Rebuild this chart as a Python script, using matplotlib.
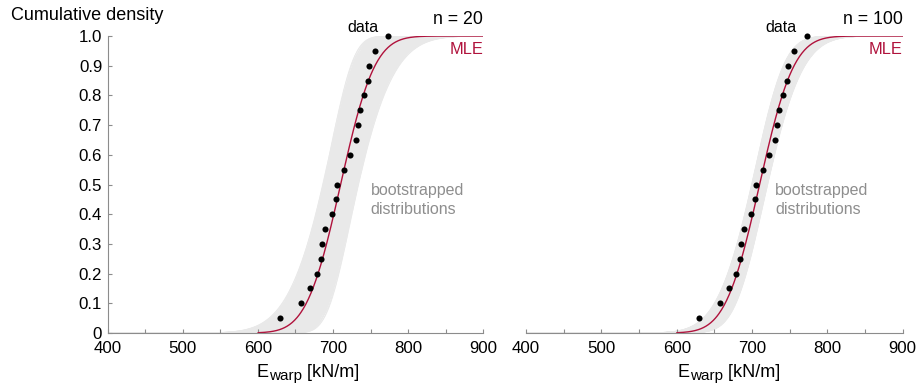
import math
import numpy as np
import matplotlib
matplotlib.use("Agg")
import matplotlib.pyplot as plt
from matplotlib.ticker import FixedLocator, MultipleLocator
from matplotlib.transforms import IdentityTransform

plt.rcParams["font.family"] = ["Liberation Sans", "DejaVu Sans"]

# Measured warp stiffness values (kN/m), sorted, with empirical CDF levels
e_warp = [630, 657, 669, 679, 684, 685, 689, 698, 703.5, 705.5,
          714, 722, 731, 733.5, 736, 741, 747, 748, 756, 773]
cdf_level = [0.05, 0.10, 0.15, 0.20, 0.25, 0.30, 0.35, 0.40, 0.45, 0.50,
             0.55, 0.60, 0.65, 0.70, 0.75, 0.80, 0.85, 0.90, 0.95, 1.00]

# Bootstrap sample sizes for the two panels
sample_sizes = [20, 100]

x_ticks = [400, 500, 600, 700, 800, 900]
y_ticks = [0, 0.1, 0.2, 0.3, 0.4, 0.5, 0.6, 0.7, 0.8, 0.9, 1.0]
y_ticklabels = ["0", "0.1", "0.2", "0.3", "0.4", "0.5", "0.6", "0.7", "0.8", "0.9", "1.0"]

RED = "#b0123c"
BAND = "#e9e9e9"
AXIS_GRAY = "#8c8c8c"
TICK_FS = 12.2

_erf = np.vectorize(math.erf)


def norm_cdf(x, mu, sigma):
    return 0.5 * (1.0 + _erf((x - mu) / (sigma * math.sqrt(2.0))))


# Maximum-likelihood normal fit
data = np.asarray(e_warp, dtype=float)
mu_hat = data.mean()
sigma_hat = data.std()

xs = np.linspace(400, 900, 600)

fig = plt.figure(figsize=(9.23, 3.84), dpi=100)
ax_l = fig.add_axes([0.1167, 0.1328, 0.4069, 0.7734])
ax_r = fig.add_axes([0.5699, 0.1328, 0.4081, 0.7734])

panel_text = {
    ax_l: dict(data_x=761, boot_x=750, label_cx=308),
    ax_r: dict(data_x=759, boot_x=731, label_cx=729),
}

renderer = fig.canvas.get_renderer()
pix = IdentityTransform()


def subscript_label(cx, baseline):
    """Draw 'E' with a 'warp' subscript followed by the unit, centred at cx (pixels)."""
    parts = [("E", 13, 0.0), ("warp", 11, -3.5), (" [kN/m]", 13, 0.0)]
    texts = []
    for s, fs, dy in parts:
        t = fig.text(0, baseline + dy, s, fontsize=fs, ha="left", va="baseline",
                     transform=pix)
        texts.append(t)
    widths = [t.get_window_extent(renderer).width for t in texts]
    x = cx - sum(widths) / 2.0
    for t, w in zip(texts, widths):
        t.set_x(x)
        x += w


for ax, n in zip([ax_l, ax_r], sample_sizes):
    # Spread of refitted parameters for resamples of size n
    se_mu = sigma_hat / math.sqrt(n)
    se_sig = 1.0 / math.sqrt(2.0 * n)
    for r in np.linspace(0.15, 3.0, 14):
        for th in np.linspace(0, 2 * np.pi, 26, endpoint=False):
            mu_b = mu_hat + r * math.cos(th) * se_mu
            sig_b = sigma_hat * (1.0 + r * math.sin(th) * se_sig)
            ax.plot(xs, norm_cdf(xs, mu_b, sig_b), color=BAND, lw=0.6,
                    zorder=1, solid_capstyle="butt")

    # Fitted CDF; the flat zero tail sits under the axis line
    fit = norm_cdf(xs, mu_hat, sigma_hat)
    fit_vis = np.where(fit > 0.001, fit, np.nan)
    ax.plot(xs, fit_vis, color=RED, lw=1.0, zorder=2.2)
    ax.plot(e_warp, cdf_level, "o", color="black", ms=4.4, mew=0,
            zorder=4, clip_on=False)

    ax.set_xlim(400, 900)
    ax.set_ylim(0, 1.0)

    for side in ["top", "right"]:
        ax.spines[side].set_visible(False)
    for side in ["left", "bottom"]:
        ax.spines[side].set_color(AXIS_GRAY)
        ax.spines[side].set_linewidth(0.8)
        ax.spines[side].set_zorder(3)

    ax.xaxis.set_major_locator(FixedLocator(x_ticks))
    ax.xaxis.set_minor_locator(MultipleLocator(50))
    ax.set_xticklabels([str(v) for v in x_ticks])
    ax.tick_params(axis="x", which="both", direction="in", length=3,
                   width=0.8, color=AXIS_GRAY, labelsize=TICK_FS, pad=6)

    ax.text(panel_text[ax]["data_x"], 1.029, "data", ha="right", va="center",
            fontsize=11.5, color="black")
    ax.text(900, 1.054, f"n = {n}", ha="right", va="center",
            fontsize=12.8, color="black", clip_on=False)
    ax.text(900, 0.956, "MLE", ha="right", va="center", fontsize=11.8, color=RED)
    ax.text(panel_text[ax]["boot_x"], 0.479, "bootstrapped", ha="left", va="center",
            fontsize=11.5, color="#8e8e8e")
    ax.text(panel_text[ax]["boot_x"], 0.416, "distributions", ha="left", va="center",
            fontsize=11.5, color="#8e8e8e")

    subscript_label(panel_text[ax]["label_cx"], 384 - 376.7)

ax_l.yaxis.set_major_locator(FixedLocator(y_ticks))
ax_l.set_yticklabels(y_ticklabels)
ax_l.tick_params(axis="y", direction="in", length=3, width=0.8,
                 color=AXIS_GRAY, labelsize=TICK_FS, pad=4)

ax_r.spines["left"].set_visible(False)
ax_r.set_yticks([])

fig.text(11 / 923, 1 - 15.7 / 384, "Cumulative density", ha="left", va="center",
         fontsize=13)

fig.savefig("out.png", dpi=100)
